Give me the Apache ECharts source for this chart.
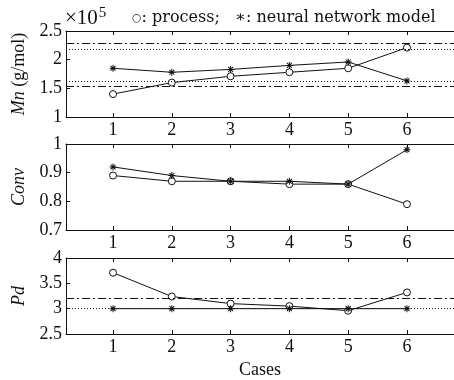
<!DOCTYPE html>
<html>
<head>
<meta charset="utf-8">
<script src="https://cdn.jsdelivr.net/npm/echarts@6/dist/echarts.min.js"></script>
<style>
  html, body { margin: 0; padding: 0; background: #fff; }
  #canvas { width: 454px; height: 380px; }
</style>
</head>
<body>
<div id="canvas"></div>
<script>
// 数据
var cases = [1, 2, 3, 4, 5, 6];
var mnProcess = [1.40, 1.60, 1.71, 1.78, 1.85, 2.21];
var mnNeural = [1.85, 1.78, 1.83, 1.90, 1.96, 1.63];
var convProcess = [0.89, 0.87, 0.87, 0.86, 0.86, 0.79];
var convNeural = [0.92, 0.89, 0.87, 0.87, 0.86, 0.98];
var pdProcess = [3.71, 3.24, 3.10, 3.05, 2.96, 3.32];
var pdNeural = [3.0, 3.0, 3.0, 3.0, 3.0, 3.0];
var mnDashDot = [2.28, 1.53];
var mnDotted = [2.19, 1.62];
var pdDashDot = [3.2];
var pdDotted = [3.0];

var FONT = 'Liberation Serif';
var INK = '#111';
var star = 'path://M-5,-0.7 L5,-0.7 L5,0.7 L-5,0.7 Z M-0.7,-5 L0.7,-5 L0.7,5 L-0.7,5 Z ' +
    'M-3,-4 L4,3 L3,4 L-4,-3 Z M-4,3 L3,-4 L4,-3 L-3,4 Z';

var dom = document.getElementById("canvas");
var myChart = echarts.init(dom);

var tops = [31, 144, 258];
var yRanges = [[1, 2.5, 0.5], [0.7, 1, 0.1], [2.5, 4, 0.5]];
var yNames = ['{i|Mn} (g/mol)', '{i|Conv}', '{i|Pd}'];
var nameGaps = [36, 36, 38];

function pairs(ys) {
    var out = [];
    for (var i = 0; i < cases.length; i++) out.push([cases[i], ys[i]]);
    return out;
}
function refLines(vals, type) {
    return vals.map(function (v) {
        return { yAxis: v, lineStyle: { type: type, color: INK, width: 1 } };
    });
}

var grids = [], xAxes = [], yAxes = [], series = [];
for (var k = 0; k < 3; k++) {
    grids.push({ left: 66, top: tops[k], width: 397, height: 86 });
    // 下方坐标轴
    xAxes.push({
        gridIndex: k, type: 'value', min: 0.2, max: 6.8, position: 'bottom',
        splitLine: { show: false },
        axisLine: { lineStyle: { color: INK } },
        axisTick: { inside: true, length: 4, customValues: cases, lineStyle: { color: INK } },
        axisLabel: { customValues: cases, color: INK, fontFamily: FONT, fontSize: 18, margin: 4 },
        name: k === 2 ? 'Cases' : '', nameLocation: 'middle', nameGap: 27,
        nameTextStyle: { color: INK, fontFamily: FONT, fontSize: 18 }
    });
    // 上方边框
    xAxes.push({
        gridIndex: k, type: 'value', min: 0.2, max: 6.8, position: 'top',
        splitLine: { show: false },
        axisLine: { lineStyle: { color: INK } },
        axisTick: { inside: true, length: 4, customValues: cases, lineStyle: { color: INK } },
        axisLabel: { show: false }
    });
    yAxes.push({
        gridIndex: k, type: 'value', min: yRanges[k][0], max: yRanges[k][1], interval: yRanges[k][2],
        splitLine: { show: false },
        axisLine: { lineStyle: { color: INK } },
        axisTick: { inside: true, length: 4, lineStyle: { color: INK } },
        axisLabel: { color: INK, fontFamily: FONT, fontSize: 18, margin: 4 },
        name: yNames[k], nameLocation: 'middle', nameRotate: 90, nameGap: nameGaps[k],
        nameTextStyle: {
            color: INK, fontFamily: FONT, fontSize: 18,
            rich: { i: { fontStyle: 'italic', fontFamily: FONT, fontSize: 18, color: INK } }
        }
    });
}

var procData = [mnProcess, convProcess, pdProcess];
var nnData = [mnNeural, convNeural, pdNeural];
var marks = [
    refLines(mnDashDot, [8, 3, 2, 3]).concat(refLines(mnDotted, [1, 2])),
    [],
    refLines(pdDashDot, [8, 3, 2, 3]).concat(refLines(pdDotted, [1, 2]))
];
for (var k = 0; k < 3; k++) {
    series.push({
        type: 'line', xAxisIndex: k * 2, yAxisIndex: k, data: pairs(procData[k]),
        symbol: 'circle', symbolSize: 7,
        lineStyle: { color: INK, width: 1 },
        itemStyle: { color: '#fff', borderColor: INK, borderWidth: 1 },
        markLine: { silent: true, symbol: 'none', label: { show: false }, data: marks[k] },
        z: 3
    });
    series.push({
        type: 'line', xAxisIndex: k * 2, yAxisIndex: k, data: pairs(nnData[k]),
        symbol: star, symbolSize: 7,
        lineStyle: { color: INK, width: 1 },
        itemStyle: { color: INK, borderWidth: 0 },
        z: 4
    });
}

option = {
    backgroundColor: '#fff',
    animation: false,
    title: [{
        text: '\u00d710{s|5}', left: 60, top: 1,
        textStyle: {
            fontFamily: FONT, fontSize: 21, fontWeight: 'normal', color: INK,
            rich: { s: { fontFamily: FONT, fontSize: 15, verticalAlign: 'top', color: INK, padding: [0, 0, 9, 1] } }
        }
    }, {
        text: '{c|\u25cb}: process;   \u2217: neural network model', left: 127, top: 5,
        textStyle: {
            fontFamily: 'DejaVu Serif', fontSize: 16, fontWeight: 'normal', color: INK,
            rich: { c: { fontFamily: 'DejaVu Serif', fontSize: 11, color: INK } }
        }
    }],
    grid: grids,
    xAxis: xAxes,
    yAxis: yAxes,
    series: series
};
myChart.setOption(option);
window.onresize = myChart.resize;
</script>
</body>
</html>
